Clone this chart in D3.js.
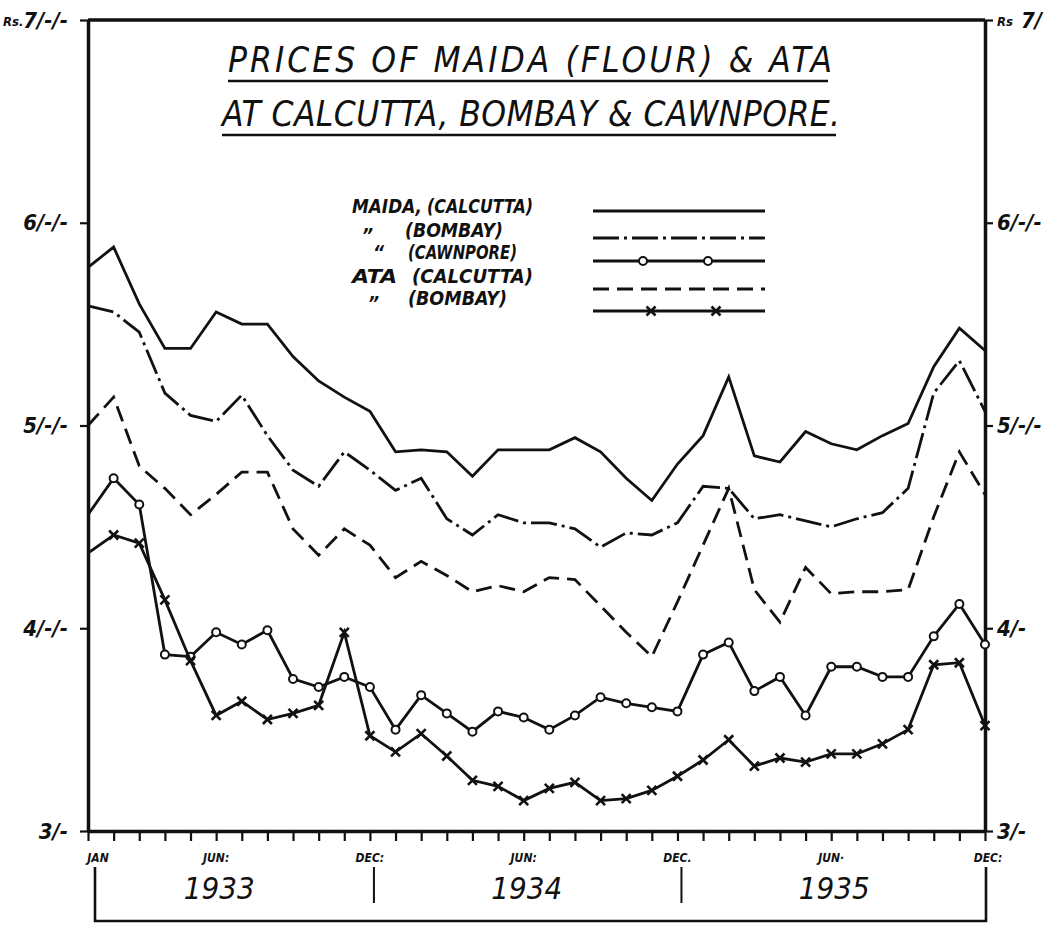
<!DOCTYPE html>
<html>
<head>
<meta charset="utf-8">
<script src="https://cdn.jsdelivr.net/npm/d3@7"></script>
<style>
  html, body { margin: 0; padding: 0; background: #fff; }
  svg { display: block; }
  .hand { font-family: "DejaVu Sans Condensed", "Liberation Sans Narrow", "DejaVu Sans", sans-serif; font-stretch: condensed; font-style: italic; fill: #111; }
</style>
</head>
<body>
<svg id="chart" width="1049" height="930"></svg>
<script>
// Months covered, January 1933 to December 1935
const months = [
  "Jan 1933","Feb 1933","Mar 1933","Apr 1933","May 1933","Jun 1933",
  "Jul 1933","Aug 1933","Sep 1933","Oct 1933","Nov 1933","Dec 1933",
  "Jan 1934","Feb 1934","Mar 1934","Apr 1934","May 1934","Jun 1934",
  "Jul 1934","Aug 1934","Sep 1934","Oct 1934","Nov 1934","Dec 1934",
  "Jan 1935","Feb 1935","Mar 1935","Apr 1935","May 1935","Jun 1935",
  "Jul 1935","Aug 1935","Sep 1935","Oct 1935","Nov 1935","Dec 1935"
];

// Prices in rupees per maund
const maidaCalcutta = [5.78,5.88,5.60,5.38,5.38,5.56,5.50,5.50,5.34,5.22,5.14,5.07,
                       4.87,4.88,4.87,4.75,4.88,4.88,4.88,4.94,4.87,4.74,4.63,4.81,
                       4.95,5.24,4.85,4.82,4.97,4.91,4.88,4.95,5.01,5.29,5.48,5.37];
const maidaBombay   = [5.59,5.56,5.46,5.16,5.05,5.02,5.15,4.95,4.78,4.70,4.87,4.78,
                       4.68,4.74,4.54,4.46,4.56,4.52,4.52,4.49,4.40,4.47,4.46,4.52,
                       4.70,4.69,4.54,4.56,4.53,4.50,4.54,4.57,4.69,5.16,5.32,5.07];
const maidaCawnpore = [4.56,4.74,4.61,3.87,3.86,3.98,3.92,3.99,3.75,3.71,3.76,3.71,
                       3.50,3.67,3.58,3.49,3.59,3.56,3.50,3.57,3.66,3.63,3.61,3.59,
                       3.87,3.93,3.69,3.76,3.57,3.81,3.81,3.76,3.76,3.96,4.12,3.92];
const ataCalcutta   = [5.00,5.14,4.80,4.69,4.56,4.66,4.77,4.77,4.49,4.36,4.49,4.41,
                       4.25,4.33,4.26,4.18,4.21,4.18,4.25,4.24,4.11,3.98,3.86,4.13,
                       4.41,4.69,4.19,4.03,4.30,4.17,4.18,4.18,4.19,4.55,4.87,4.66];
const ataBombay     = [4.37,4.46,4.42,4.14,3.84,3.57,3.64,3.55,3.58,3.62,3.98,3.47,
                       3.39,3.48,3.37,3.25,3.22,3.15,3.21,3.24,3.15,3.16,3.20,3.27,
                       3.35,3.45,3.32,3.36,3.34,3.38,3.38,3.43,3.50,3.82,3.83,3.52];

// Axis labelling
const priceTicks = [3, 4, 5, 6, 7];
const leftTickLabels  = ["3/-", "4/-/-", "5/-/-", "6/-/-", "7/-/-"];
const rightTickLabels = ["3/-", "4/-", "5/-/-", "6/-/-", "7/"];
const currencyLeft = "Rs.";
const currencyRight = "Rs";
const monthTickAt     = ["Jan 1933","Jun 1933","Dec 1933","Jun 1934","Dec 1934","Jun 1935","Dec 1935"];
const monthTickLabels = ["JAN","JUN:","DEC:","JUN:","DEC.","JUN·","DEC:"];
const yearLabels  = ["1933", "1934", "1935"];
const yearCentres = ["Jun 1933", "Jun 1934", "Jun 1935"];
const yearBreaks  = ["Dec 1933", "Dec 1934"];

const titleLines = ["PRICES OF MAIDA (FLOUR) & ATA", "AT CALCUTTA, BOMBAY & CAWNPORE."];

const series = [
  { prefix: "MAIDA,", city: "(CALCUTTA)", values: maidaCalcutta, dash: null,         marker: null },
  { prefix: "\u201D",  city: "(BOMBAY)",   values: maidaBombay,   dash: "26,5,3,5",   marker: null },
  { prefix: "\u201C",  city: "(CAWNPORE)", values: maidaCawnpore, dash: null,         marker: "circle" },
  { prefix: "ATA",    city: "(CALCUTTA)", values: ataCalcutta,   dash: "16,8",       marker: null },
  { prefix: "\u201D",  city: "(BOMBAY)",   values: ataBombay,     dash: null,         marker: "cross" }
];

const svg = d3.select("#chart");
const ink = "#111";

const x = d3.scalePoint().domain(months).range([88, 985]);
const y = d3.scaleLinear().domain([3, 7]).range([831, 20]);

// ---- title ----
const titleY = [72, 126];
const titleSpan = [[228, 832], [222, 840]];
titleLines.forEach((t, i) => {
  svg.append("text").attr("class", "hand")
    .attr("x", titleSpan[i][0]).attr("y", titleY[i])
    .attr("textLength", titleSpan[i][1] - titleSpan[i][0])
    .attr("lengthAdjust", "spacing")
    .style("font-size", "35px")
    .text(t);
  svg.append("line")
    .attr("x1", titleSpan[i][0]).attr("x2", titleSpan[i][1] - 4)
    .attr("y1", titleY[i] + 9).attr("y2", titleY[i] + 9)
    .attr("stroke", ink).attr("stroke-width", 2.6);
});

// ---- frame and axes ----
const axisFont = g => g.selectAll("text").attr("class", "hand")
  .style("font-size", "22px").style("font-weight", "bold");

const gl = svg.append("g").attr("transform", `translate(${x.range()[0]},0)`)
  .call(d3.axisLeft(y).tickValues(priceTicks).tickSize(8).tickSizeOuter(0).tickPadding(12)
        .tickFormat((d, i) => leftTickLabels[i]));
gl.call(axisFont);

const gr = svg.append("g").attr("transform", `translate(${x.range()[1]},0)`)
  .call(d3.axisRight(y).tickValues(priceTicks).tickSize(8).tickSizeOuter(0).tickPadding(4)
        .tickFormat((d, i) => rightTickLabels[i]));
gr.call(axisFont);
gr.selectAll(".tick text").filter(d => d === 7).attr("x", 36);

// currency marks beside the top value on each side
svg.append("text").attr("class", "hand")
  .attr("x", 3).attr("y", y(7) + 6)
  .style("font-size", "13px").style("font-weight", "bold")
  .text(currencyLeft);
svg.append("text").attr("class", "hand")
  .attr("x", x.range()[1] + 12).attr("y", y(7) + 6)
  .style("font-size", "13px").style("font-weight", "bold")
  .text(currencyRight);

const gb = svg.append("g").attr("transform", `translate(0,${y(3)})`)
  .call(d3.axisBottom(x).tickSize(10).tickSizeOuter(0).tickFormat(""));

[gl, gr, gb].forEach(g => {
  g.select(".domain").attr("stroke", ink).attr("stroke-width", 3.5);
  g.selectAll(".tick line").attr("stroke", ink).attr("stroke-width", 2.2);
});

svg.append("line")
  .attr("x1", x.range()[0]).attr("x2", x.range()[1])
  .attr("y1", y(7)).attr("y2", y(7))
  .attr("stroke", ink).attr("stroke-width", 3.5);

// month names under the axis
svg.append("g").selectAll("text").data(monthTickAt).join("text")
  .attr("class", "hand")
  .attr("x", (d, i) => x(d) + (i === 0 ? 10 : i === monthTickAt.length - 1 ? 3 : 0))
  .attr("y", 862)
  .attr("text-anchor", "middle")
  .style("font-size", "12px").style("font-weight", "bold")
  .text((d, i) => monthTickLabels[i]);

// year labels with their brackets
svg.append("g").selectAll("text").data(yearCentres).join("text")
  .attr("class", "hand")
  .attr("x", d => x(d) + 3).attr("y", 899)
  .attr("text-anchor", "middle")
  .style("font-size", "31px")
  .text((d, i) => yearLabels[i]);

svg.append("g").selectAll("line").data(yearBreaks).join("line")
  .attr("x1", d => x(d) + 4).attr("x2", d => x(d) + 4)
  .attr("y1", 867).attr("y2", 903)
  .attr("stroke", ink).attr("stroke-width", 2);

const bx0 = x(months[0]) + 7, bx1 = x(months[months.length - 1]) + 1;
svg.append("path")
  .attr("d", `M${bx0},867 V921 H${bx1} V867`)
  .attr("fill", "none").attr("stroke", ink).attr("stroke-width", 2.6);

// ---- price lines ----
const line = d3.line().x((d, i) => x(months[i])).y(d => y(d));

const drawMarker = (g, kind, px, py) => {
  if (kind === "circle") {
    g.append("circle").attr("cx", px).attr("cy", py).attr("r", 4)
      .attr("fill", "#fff").attr("stroke", ink).attr("stroke-width", 2);
  } else if (kind === "cross") {
    const s = 4.5;
    g.append("path")
      .attr("d", `M${px - s},${py - s}L${px + s},${py + s}M${px - s},${py + s}L${px + s},${py - s}`)
      .attr("stroke", ink).attr("stroke-width", 2.6).attr("fill", "none");
  }
};

const plot = svg.append("g");
series.forEach(s => {
  const g = plot.append("g");
  g.append("path")
    .attr("d", line(s.values))
    .attr("fill", "none").attr("stroke", ink)
    .attr("stroke-width", 2.8)
    .attr("stroke-linejoin", "miter")
    .attr("stroke-dasharray", s.dash);
  if (s.marker) {
    s.values.forEach((v, i) => {
      if (i === 0) return;
      drawMarker(g, s.marker, x(months[i]), y(v));
    });
  }
});

// ---- legend ----
const legendBase = [213, 237, 259, 283, 305];
const legendLineY = [211, 238, 261, 289, 311];
const prefixX = [352, 362, 373, 352, 368];
const cityX = [427, 405, 408, 412, 408];
const cityW = [106, 98, 109, 121, 99];
const sampleX = [593, 765];
const sampleMarks = [643, 708];

const lg = svg.append("g");
series.forEach((s, i) => {
  lg.append("text").attr("class", "hand")
    .attr("x", prefixX[i]).attr("y", legendBase[i] + (s.prefix.length === 1 ? (i === 2 ? 0 : 5) : 0))
    .style("font-size", "19px").style("font-weight", "bold")
    .attr("textLength", s.prefix.length > 1 ? (i === 0 ? 70 : 45) : null)
    .attr("lengthAdjust", "spacingAndGlyphs")
    .text(s.prefix);
  lg.append("text").attr("class", "hand")
    .attr("x", cityX[i]).attr("y", legendBase[i])
    .attr("textLength", cityW[i]).attr("lengthAdjust", "spacingAndGlyphs")
    .style("font-size", "19px").style("font-weight", "bold")
    .text(s.city);
  lg.append("line")
    .attr("x1", sampleX[0]).attr("x2", sampleX[1])
    .attr("y1", legendLineY[i]).attr("y2", legendLineY[i])
    .attr("stroke", ink).attr("stroke-width", 2.8)
    .attr("stroke-dasharray", s.dash);
  if (s.marker) sampleMarks.forEach(mx => drawMarker(lg, s.marker, mx + (s.marker === "cross" ? 8 : 0), legendLineY[i]));
});
</script>
</body>
</html>
